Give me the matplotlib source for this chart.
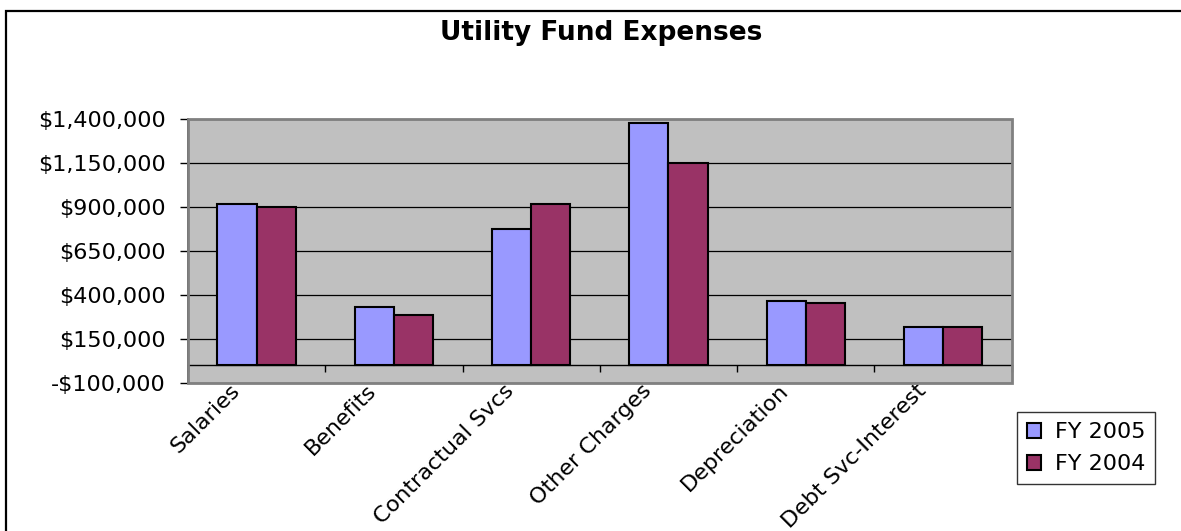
import matplotlib
matplotlib.use('Agg')
import matplotlib.pyplot as plt
import numpy as np
from matplotlib.patches import Rectangle
from matplotlib.ticker import FuncFormatter, FixedLocator

plt.rcParams['font.family'] = ['DejaVu Sans']

# data
categories = ['Salaries', 'Benefits', 'Contractual Svcs', 'Other Charges',
              'Depreciation', 'Debt Svc-Interest']
fy2005 = [919000, 330000, 773000, 1375000, 366000, 216000]
fy2004 = [898000, 286000, 919000, 1150000, 355000, 216000]
series_labels = ['FY 2005', 'FY 2004']
yticks = [-100000, 150000, 400000, 650000, 900000, 1150000, 1400000]

W, H = 1181, 531
fig = plt.figure(figsize=(W / 100, H / 100), dpi=100)
fig.patch.set_facecolor('white')

# chart outer border (only left/top edges visible in the picture)
fig.add_artist(Rectangle((6 / W, -0.1), 1.2, 1 - 11 / H + 0.1,
                         transform=fig.transFigure, fill=False,
                         ec='black', lw=1.6))

ax = fig.add_axes([188 / W, 1 - 383 / H, 823.7 / W, 264 / H])
ax.set_facecolor('#C0C0C0')

x = np.arange(len(categories))
bw = 1 / 3.5
b1 = ax.bar(x - bw / 2, fy2005, bw, color='#9999FF', edgecolor='black',
            linewidth=1.5, label=series_labels[0], zorder=3)
b2 = ax.bar(x + bw / 2, fy2004, bw, color='#993366', edgecolor='black',
            linewidth=1.5, label=series_labels[1], zorder=3)

ax.set_xlim(-0.5, len(categories) - 0.5)
ax.set_ylim(yticks[0], yticks[-1])
ax.set_yticks(yticks)
ax.yaxis.set_major_formatter(FuncFormatter(
    lambda v, p: ('-$' if v < 0 else '$') + '{:,.0f}'.format(abs(v))))
ax.yaxis.grid(True, color='black', lw=0.9, zorder=1)
ax.set_axisbelow(True)

# category axis crosses at zero
for s in ['top', 'right']:
    ax.spines[s].set_visible(False)
ax.spines['bottom'].set_position(('data', 0))
ax.spines['bottom'].set_color('black')
ax.spines['bottom'].set_linewidth(1.0)
ax.spines['left'].set_color('#222222')
ax.spines['left'].set_linewidth(1.2)
ax.add_patch(Rectangle((0, 0), 1, 1, transform=ax.transAxes, fill=False,
                       ec='#808080', lw=2.0, zorder=4, clip_on=False))

# labels sit a little left of the category centre, like excel does
ax.set_xticks(x - 0.2)
ax.set_xticklabels(categories, rotation=45, ha='right',
                   rotation_mode='anchor', fontsize=16)
ax.xaxis.set_minor_locator(FixedLocator(np.arange(-0.5, len(categories), 1)))
ax.tick_params(axis='x', which='major', length=0, pad=11)
ax.tick_params(axis='x', which='minor', length=5, width=1, direction='out')
ax.tick_params(axis='y', labelsize=16, length=5.8, width=1, pad=10)

fig.text(601 / W, 1 - 33 / H, 'Utility Fund Expenses', ha='center',
         va='center', fontsize=19, fontweight='bold')

leg = fig.legend(handles=[b1, b2], labels=series_labels,
                 loc='upper left', bbox_to_anchor=(1017 / W, 1 - 412 / H),
                 frameon=True, fancybox=False, edgecolor='black',
                 fontsize=16, handlelength=0.65, handleheight=0.65,
                 handletextpad=0.6, borderpad=0.45, labelspacing=0.55,
                 borderaxespad=0)
leg.get_frame().set_linewidth(1.0)

fig.savefig('out.png', dpi=100)
